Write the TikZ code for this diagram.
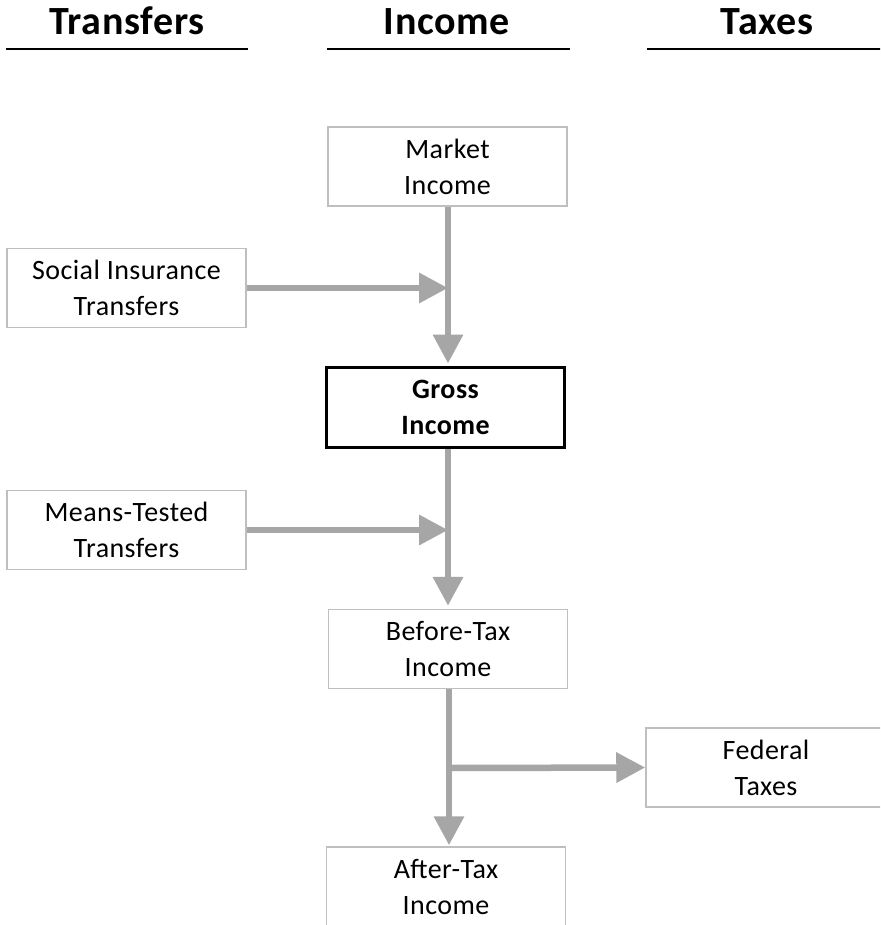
\documentclass[tikz,border=0pt]{standalone}
\usepackage{fontspec}
\setmainfont{Carlito}
\newfontfamily\spacedfont{Carlito}[LetterSpace=1.6]
\usetikzlibrary{arrows.meta}
\definecolor{boxgray}{HTML}{BFBFBF}
\definecolor{arrgray}{HTML}{A6A6A6}
\begin{document}
\begin{tikzpicture}[x=1pt,y=-1pt,
  box/.style={draw=boxgray, line width=1.5pt, minimum width=239pt, minimum height=79pt,
    inner sep=0pt, align=center, font=\spacedfont\fontsize{28}{36}\selectfont},
  keybox/.style={box, draw=black, line width=3pt, minimum height=80pt,
    font=\spacedfont\fontsize{28}{36}\selectfont\bfseries},
  flow/.style={draw=arrgray, line width=6.5pt, -{Triangle[length=29pt,width=29pt]}},
  head/.style={font=\spacedfont\fontsize{40}{48}\selectfont\bfseries, anchor=base, inner sep=0pt},
  headrule/.style={line width=2.5pt}
]
\useasboundingbox (0,0) rectangle (880,925);
\clip (0,0) rectangle (880,925);
\fill[white] (0,0) rectangle (880,925);

% column headers
\node[head] (hT) at (127,35) {Transfers};
\node[head] (hI) at (447,35) {Income};
\node[head] (hX) at (767,35) {Taxes};
\coordinate (rT1) at (6,49);   \coordinate (rT2) at (248,49);
\coordinate (rI1) at (327,49); \coordinate (rI2) at (570,49);
\coordinate (rX1) at (647,49); \coordinate (rX2) at (890,49);
\draw[headrule] (rT1) -- (rT2);
\draw[headrule] (rI1) -- (rI2);
\draw[headrule] (rX1) -- (rX2);

% boxes
\node[box] (mkt) at (447.5,166.5) {Market\\Income};
\node[box] (soc) at (126.5,288) {Social Insurance\\Transfers};
\node[keybox, minimum width=238pt] (gross) at (445.5,407) {Gross\\Income};
\node[box] (mtt) at (126.5,530) {Means-Tested\\Transfers};
\node[box] (bt) at (448,649) {Before-Tax\\Income};
\node[box, minimum width=240pt] (fed) at (766,767.5) {Federal\\Taxes};
\node[box, minimum height=80pt] (at) at (446,887) {After-Tax\\Income};

% connectors
\coordinate (j1) at (448,288);
\coordinate (j2) at (448,530);
\coordinate (j3) at (449,768);
\draw[flow, shorten >=2pt] (mkt.south -| j1) -- (gross.north -| j1);
\draw[flow] (soc.east) -- (j1);
\draw[flow, shorten >=3pt] (gross.south -| j2) -- (bt.north -| j2);
\draw[flow] (mtt.east) -- (j2);
\draw[flow, shorten >=1pt] (bt.south -| j3) -- (at.north -| j3);
\draw[flow] (j3) -- (fed.west);
\end{tikzpicture}
\end{document}
